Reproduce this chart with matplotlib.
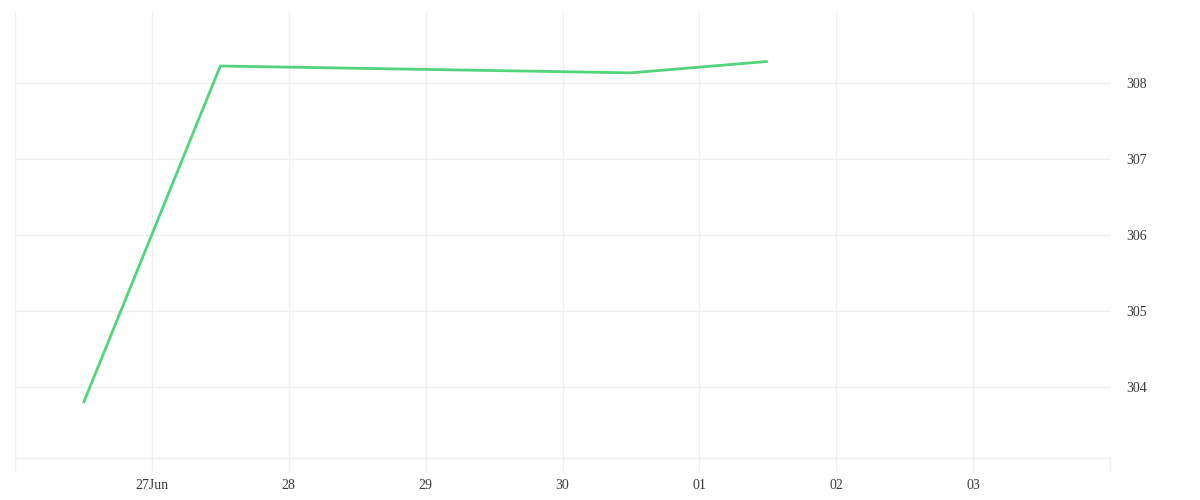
import matplotlib
matplotlib.use("Agg")
import matplotlib.pyplot as plt
import matplotlib.dates as mdates
import numpy as np
from datetime import datetime

dates = ["2024-06-26 12:00", "2024-06-27 12:00", "2024-06-30 12:00", "2024-07-01 12:00"]
values = [303.79, 308.22, 308.13, 308.28]
tick_dates = ["2024-06-26", "2024-06-27", "2024-06-28", "2024-06-29", "2024-06-30",
              "2024-07-01", "2024-07-02", "2024-07-03", "2024-07-04"]
tick_labels = ["", "27Jun", "28", "29", "30", "01", "02", "03", ""]
y_ticks = [304, 305, 306, 307, 308]

x = [datetime.strptime(d, "%Y-%m-%d %H:%M") for d in dates]
xt = [datetime.strptime(d, "%Y-%m-%d") for d in tick_dates]

plt.rcParams['font.family'] = ['Liberation Serif', 'DejaVu Serif']
fig = plt.figure(figsize=(12, 5), dpi=100)
ax = fig.add_axes([15/1200, 1-458/500, (1110-15)/1200, (458-12)/500])

ax.plot(x, values, color="#52d47c", lw=2.0, solid_capstyle="butt", zorder=3)

ax.set_xlim(xt[0], xt[-1])
ax.set_ylim(303.066, 308.93)
ax.set_xticks(xt)
ax.set_xticklabels(tick_labels)
ax.set_yticks(y_ticks)
ax.yaxis.tick_right()

for s in ["top", "left", "right"]:
    ax.spines[s].set_visible(False)
ax.spines["bottom"].set_color("#efefef")
ax.spines["bottom"].set_linewidth(1)

ax.grid(True, color="#f0f0f0", lw=1)
ax.tick_params(axis="x", length=10, width=1, color="#efefef", labelsize=10,
               labelcolor="#3a3a3a", pad=5)
ax.tick_params(axis="y", length=0, labelsize=10, labelcolor="#3a3a3a", pad=12)
for lbl in ax.get_yticklabels():
    lbl.set_horizontalalignment("left")

fig.savefig("out.png", dpi=100, facecolor="white")
